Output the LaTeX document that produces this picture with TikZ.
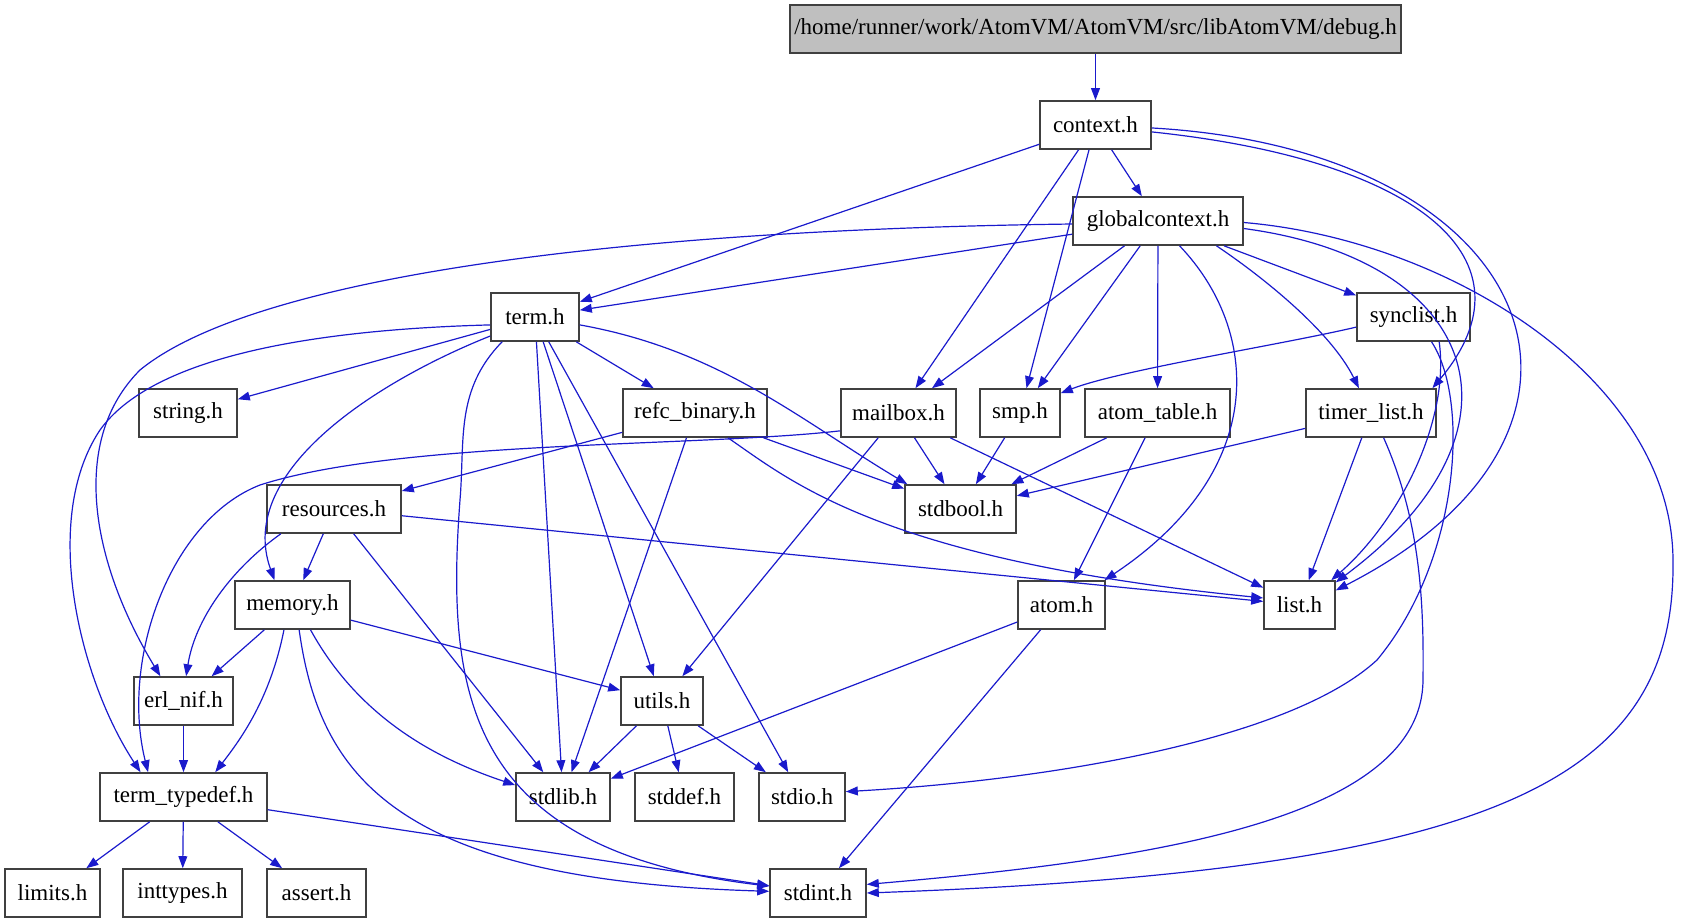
\documentclass[tikz,border=0pt]{standalone}
\usepackage{fontspec}
\setmainfont{Liberation Serif}
\usetikzlibrary{arrows.meta}
\definecolor{edgeblue}{RGB}{26,26,204}
\definecolor{boxline}{RGB}{64,64,64}
\definecolor{rootgray}{RGB}{191,191,191}

\begin{document}
\begin{tikzpicture}[
                x=0.5pt, y=-0.5pt,
                box/.style={
                    draw=boxline,
                    fill=white,
                    rectangle,
                    line width=0.8pt,
                    minimum height=24pt,
                    inner sep=0pt,
                    align=center,
                    font=\fontsize{11.5pt}{13pt}\selectfont
                },
                rootbox/.style={
                    box,
                    fill=rootgray
                },
                arrow/.style={
                    -{Triangle[length=6pt,width=4.4pt]},
                    draw=edgeblue,
                    line width=0.6pt
                }
            ]
                \useasboundingbox (0,0) rectangle (1682,923);

                \node[rootbox, minimum width=305.5pt] (debug) at (1095.5,29) {/home/runner/work/AtomVM/AtomVM/src/libAtomVM/debug.h};
                \node[box, minimum width=55.5pt] (context) at (1095.5,125) {context.h};
                \node[box, minimum width=85pt] (globalcontext) at (1158,221) {globalcontext.h};
                \node[box, minimum width=44pt] (term) at (535,317) {term.h};
                \node[box, minimum width=56.5pt] (synclist) at (1413.5,317) {synclist.h};
                \node[box, minimum width=49pt] (string) at (188,413) {string.h};
                \node[box, minimum width=72pt] (refc_binary) at (695,413) {refc\_binary.h};
                \node[box, minimum width=57.5pt] (mailbox) at (898.5,413) {mailbox.h};
                \node[box, minimum width=40pt] (smp) at (1020,413) {smp.h};
                \node[box, minimum width=72.5pt] (atom_table) at (1157.5,413) {atom\_table.h};
                \node[box, minimum width=65pt] (timer_list) at (1371,413) {timer\_list.h};
                \node[box, minimum width=67pt] (resources) at (334,509) {resources.h};
                \node[box, minimum width=55.5pt] (stdbool) at (960.5,509) {stdbool.h};
                \node[box, minimum width=57.5pt] (memory) at (292.5,605) {memory.h};
                \node[box, minimum width=43.5pt] (atom) at (1061.5,605) {atom.h};
                \node[box, minimum width=35.5pt] (list) at (1299.5,605) {list.h};
                \node[box, minimum width=49.5pt] (erl_nif) at (183.5,701) {erl\_nif.h};
                \node[box, minimum width=41pt] (utils) at (662,701) {utils.h};
                \node[box, minimum width=83.5pt] (term_typedef) at (183.5,797) {term\_typedef.h};
                \node[box, minimum width=47pt] (stdlib) at (563,797) {stdlib.h};
                \node[box, minimum width=49.5pt] (stddef) at (684.5,797) {stddef.h};
                \node[box, minimum width=43pt] (stdio) at (802,797) {stdio.h};
                \node[box, minimum width=47.5pt] (limits) at (52.5,893) {limits.h};
                \node[box, minimum width=59.5pt] (inttypes) at (182.5,893) {inttypes.h};
                \node[box, minimum width=49.5pt] (assert) at (316.5,893) {assert.h};
                \node[box, minimum width=48pt] (stdint) at (818,893) {stdint.h};

                \draw[arrow] (debug) -- (context);
                \draw[arrow] (context) -- (globalcontext);
                \draw[arrow] (context) -- (term);
                \draw[arrow] (context) -- (mailbox);
                \draw[arrow] (context) -- (smp);
                \draw[arrow] (context.-7) .. controls (1420,160) and (1540,260) .. (timer_list.22);
                \draw[arrow] (context.-3) .. controls (1540,150) and (1650,430) .. (list.22);
                \draw[arrow] (globalcontext) -- (term);
                \draw[arrow] (globalcontext.182) .. controls (600,230) and (250,280) .. (140,370) .. controls (70,440) and (90,560) .. (erl_nif.133);
                \draw[arrow] (globalcontext) -- (mailbox);
                \draw[arrow] (globalcontext) -- (smp);
                \draw[arrow] (globalcontext) -- (atom_table);
                \draw[arrow] (globalcontext.-49) .. controls (1260,330) and (1270,470) .. (atom.30);
                \draw[arrow] (globalcontext.-23) .. controls (1260,275) and (1330,330) .. (timer_list.116);
                \draw[arrow] (globalcontext) -- (synclist);
                \draw[arrow] (globalcontext.-5) .. controls (1480,260) and (1540,430) .. (list.32);
                \draw[arrow] (globalcontext.-1) .. controls (1450,240) and (1672,380) .. (1673,560) .. controls (1676,780) and (1500,870) .. (stdint.east);
                \draw[arrow] (term) -- (string);
                \draw[arrow] (term) -- (refc_binary);
                \draw[arrow] (term.203) .. controls (380,380) and (235,470) .. (memory.126);
                \draw[arrow] (term.190) .. controls (300,330) and (150,360) .. (100,430) .. controls (40,520) and (80,680) .. (term_typedef.150);
                \draw[arrow] (term) -- (stdlib);
                \draw[arrow] (term.217) .. controls (455,390) and (465,440) .. (460,500) .. controls (445,700) and (470,850) .. (stdint.172);
                \draw[arrow] (term) -- (utils);
                \draw[arrow] (term) -- (stdio);
                \draw[arrow] (term.-10) .. controls (720,350) and (800,420) .. (stdbool.155);
                \draw[arrow] (synclist.190) .. controls (1280,345) and (1120,370) .. (smp.26);
                \draw[arrow] (synclist.-44) .. controls (1450,420) and (1400,520) .. (list.38);
                \draw[arrow] (synclist.-54) .. controls (1470,400) and (1460,560) .. (1377,660) .. controls (1290,740) and (1050,780) .. (stdio.7);
                \draw[arrow] (refc_binary) -- (resources);
                \draw[arrow] (refc_binary) -- (stdlib);
                \draw[arrow] (refc_binary.-37) .. controls (790,480) and (880,560) .. (list.169);
                \draw[arrow] (refc_binary) -- (stdbool);
                \draw[arrow] (mailbox.197) .. controls (700,447) and (400,440) .. (260,485) .. controls (170,520) and (120,660) .. (term_typedef.145);
                \draw[arrow] (mailbox) -- (utils);
                \draw[arrow] (mailbox) -- (stdbool);
                \draw[arrow] (mailbox) -- (list);
                \draw[arrow] (smp) -- (stdbool);
                \draw[arrow] (atom_table) -- (stdbool);
                \draw[arrow] (atom_table) -- (atom);
                \draw[arrow] (timer_list) -- (stdbool);
                \draw[arrow] (timer_list) -- (list);
                \draw[arrow] (timer_list.-63) .. controls (1420,520) and (1424,600) .. (1423,680) .. controls (1422,820) and (1150,860) .. (stdint.10);
                \draw[arrow] (resources) -- (memory);
                \draw[arrow] (resources.205) .. controls (230,570) and (195,620) .. (erl_nif.84);
                \draw[arrow] (resources) -- (stdlib);
                \draw[arrow] (resources) -- (list);
                \draw[arrow] (memory) -- (erl_nif);
                \draw[arrow] (memory.-109) .. controls (270,700) and (240,740) .. (term_typedef.38);
                \draw[arrow] (memory.-54) .. controls (360,720) and (440,760) .. (stdlib.166);
                \draw[arrow] (memory.-75) .. controls (320,780) and (400,880) .. (stdint.178);
                \draw[arrow] (memory) -- (utils);
                \draw[arrow] (atom) -- (stdlib);
                \draw[arrow] (atom) -- (stdint);
                \draw[arrow] (erl_nif) -- (term_typedef);
                \draw[arrow] (utils) -- (stdlib);
                \draw[arrow] (utils) -- (stddef);
                \draw[arrow] (utils) -- (stdio);
                \draw[arrow] (term_typedef) -- (limits);
                \draw[arrow] (term_typedef) -- (inttypes);
                \draw[arrow] (term_typedef) -- (assert);
                \draw[arrow] (term_typedef) -- (stdint);
        \end{tikzpicture}
\end{document}
